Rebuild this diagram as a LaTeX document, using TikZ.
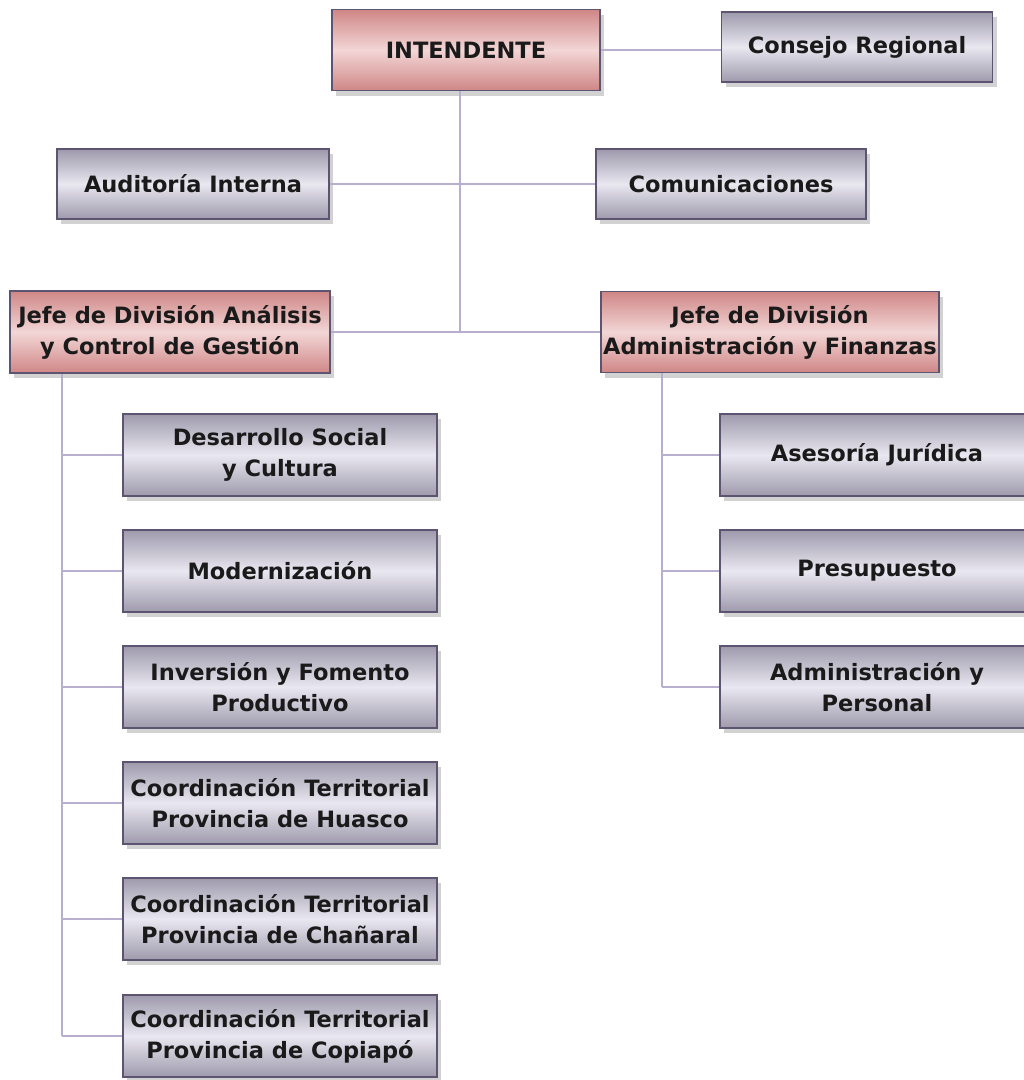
\documentclass[tikz,border=0pt]{standalone}
\usepackage{fontspec}
\setmainfont{DejaVu Sans}
\usetikzlibrary{positioning,shadows,calc}
\definecolor{ocBorder}{HTML}{5C5470}
\definecolor{ocLine}{HTML}{B8AFD0}
\definecolor{ocGreyEdge}{HTML}{9E9AAC}
\definecolor{ocGreyMid}{HTML}{E9E7F0}
\definecolor{ocRedEdge}{HTML}{CF8686}
\definecolor{ocRedMid}{HTML}{F3D6D6}
\definecolor{ocText}{HTML}{1A1A1A}

\tikzset{
  unitbox/.style={draw=ocBorder, line width=1.8pt, align=center,
    font=\bfseries\fontsize{22.5}{31}\selectfont, text=ocText, inner sep=2pt,
    drop shadow={shadow xshift=4pt, shadow yshift=-5pt, opacity=0.25, fill=black!70},
    top color=ocGreyEdge, bottom color=ocGreyEdge, middle color=ocGreyMid},
  headbox/.style={unitbox, top color=ocRedEdge, bottom color=ocRedEdge, middle color=ocRedMid},
  childbox/.style={unitbox, minimum width=314pt, minimum height=82pt},
  link/.style={draw=ocLine, line width=2pt}
}

\begin{document}
\begin{tikzpicture}[x=1pt, y=-1pt]
  \useasboundingbox (0,0) rectangle (1024,1080);
  % top level
  \node[headbox, minimum width=268pt, minimum height=81pt] (intendente) at (466,50) {INTENDENTE};
  \node[unitbox, minimum width=271pt, minimum height=70pt] (consejo) at (857,47) {Consejo Regional};
  \node[unitbox, minimum width=272pt, minimum height=70pt] (auditoria) at (193,184) {Auditoría Interna};
  \node[unitbox, minimum width=270pt, minimum height=70pt] (comunicaciones) at (731,184) {Comunicaciones};
  % divisions
  \node[headbox, minimum width=320pt, minimum height=82pt] (analisis) at (170,332)
    {Jefe de División Análisis\\y Control de Gestión};
  \node[headbox, minimum width=335pt, minimum height=81pt] (admin) at (770,332)
    {Jefe de División\\Administración y Finanzas};
  % units
  \foreach \i/\y/\lbl in {
    1/455/{Desarrollo Social\\y Cultura},
    2/571/{Modernización},
    3/687/{Inversión y Fomento\\Productivo},
    4/803/{Coordinación Territorial\\Provincia de Huasco},
    5/919/{Coordinación Territorial\\Provincia de Chañaral},
    6/1036/{Coordinación Territorial\\Provincia de Copiapó}}{
    \node[childbox] (l\i) at (280,\y) {\lbl};
  }
  \foreach \i/\y/\lbl in {
    1/455/{Asesoría Jurídica},
    2/571/{Presupuesto},
    3/687/{Administración y\\Personal}}{
    \node[childbox] (r\i) at (877,\y) {\lbl};
  }
  % connectors
  \coordinate (trunk) at (460,332);
  \coordinate (lstem) at (62,373);
  \coordinate (rstem) at (662,373);
  \draw[link] (intendente.east) -- (intendente.east -| consejo.west);
  \draw[link] (auditoria.east) -- (comunicaciones.west);
  \draw[link] (intendente.south -| trunk) -- (trunk);
  \draw[link] (analisis.east) -- (admin.west);
  \draw[link] (analisis.south -| lstem) -- (l6.west -| lstem);
  \foreach \i in {1,...,6}
    \draw[link] (l\i.west -| lstem) -- (l\i.west);
  \draw[link] (admin.south -| rstem) -- (r3.west -| rstem);
  \foreach \i in {1,2,3}
    \draw[link] (r\i.west -| rstem) -- (r\i.west);
\end{tikzpicture}
\end{document}
